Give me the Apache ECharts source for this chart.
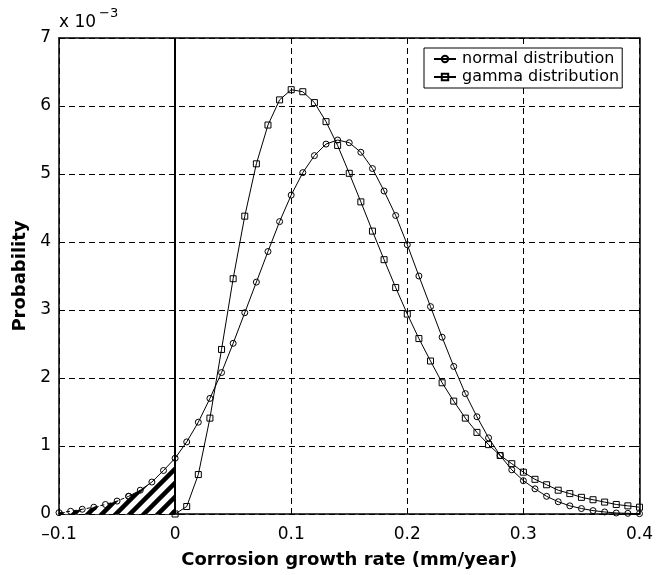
<!DOCTYPE html>
<html>
<head>
<meta charset="utf-8">
<script src="https://cdn.jsdelivr.net/npm/echarts@6/dist/echarts.min.js"></script>
<style>
  html, body { margin: 0; padding: 0; background: #fff; }
  #chart { width: 656px; height: 575px; }
</style>
</head>
<body>
<div id="chart"></div>
<script>
// Corrosion growth rate (mm/year), sampled every 0.01
const rateNormal = [-0.10,-0.09,-0.08,-0.07,-0.06,-0.05,-0.04,-0.03,-0.02,-0.01,
  0.00,0.01,0.02,0.03,0.04,0.05,0.06,0.07,0.08,0.09,
  0.10,0.11,0.12,0.13,0.14,0.15,0.16,0.17,0.18,0.19,
  0.20,0.21,0.22,0.23,0.24,0.25,0.26,0.27,0.28,0.29,
  0.30,0.31,0.32,0.33,0.34,0.35,0.36,0.37,0.38,0.39,0.40];
// Probability (x 10^-3), normal distribution
const probNormal = [0.02,0.04,0.07,0.10,0.14,0.19,0.26,0.35,0.47,0.64,
  0.82,1.06,1.35,1.70,2.08,2.51,2.96,3.41,3.86,4.30,
  4.69,5.02,5.27,5.44,5.50,5.46,5.32,5.08,4.75,4.39,
  3.96,3.50,3.05,2.60,2.17,1.77,1.43,1.12,0.86,0.65,
  0.49,0.37,0.26,0.18,0.12,0.08,0.05,0.03,0.015,0.01,0.005];

const rateGamma = [0.00,0.01,0.02,0.03,0.04,0.05,0.06,0.07,0.08,0.09,
  0.10,0.11,0.12,0.13,0.14,0.15,0.16,0.17,0.18,0.19,
  0.20,0.21,0.22,0.23,0.24,0.25,0.26,0.27,0.28,0.29,
  0.30,0.31,0.32,0.33,0.34,0.35,0.36,0.37,0.38,0.39,0.40];
// Probability (x 10^-3), gamma distribution
const probGamma = [0.00,0.11,0.58,1.41,2.42,3.46,4.38,5.15,5.72,6.09,
  6.24,6.21,6.05,5.77,5.42,5.01,4.59,4.16,3.74,3.33,
  2.94,2.58,2.25,1.93,1.66,1.41,1.20,1.02,0.86,0.74,
  0.615,0.51,0.43,0.35,0.30,0.245,0.21,0.175,0.14,0.12,0.10];

const xTickLabels = ['\u20130.1', '0', '0.1', '0.2', '0.3', '0.4'];
const yTickLabels = ['0', '1', '2', '3', '4', '5', '6', '7'];

const FONT = 'DejaVu Sans';

function pairs(xs, ys) { return xs.map((x, i) => [x, ys[i]]); }

const normalPts = pairs(rateNormal, probNormal);
const gammaPts = pairs(rateGamma, probGamma);
// negative-rate part of the normal curve (shaded region)
const negPts = normalPts.filter(p => p[0] <= 0.0001);
const dashedPts = normalPts.filter(p => p[0] <= -0.0399);
const solidNormalPts = normalPts.filter(p => p[0] >= -0.0401);

// diagonal hatch pattern
function hatchPattern() {
  const s = 14;
  const c = document.createElement('canvas');
  c.width = s; c.height = s;
  const g = c.getContext('2d');
  g.fillStyle = '#fff';
  g.fillRect(0, 0, s, s);
  g.strokeStyle = '#000';
  g.lineWidth = 4.5;
  g.beginPath();
  g.moveTo(-2, s + 2); g.lineTo(s + 2, -2);
  g.moveTo(-2 - s, s + 2); g.lineTo(2, -2);
  g.moveTo(s - 2, s + 2); g.lineTo(2 * s + 2, -2);
  g.stroke();
  return c;
}

const chart = echarts.init(document.getElementById('chart'), null, { renderer: 'canvas' });

const axisLineStyle = { color: '#000', width: 1.5 };
const gridLineStyle = { color: '#000', width: 1, type: [6, 4] };

chart.setOption({
  backgroundColor: '#fff',
  animation: false,
  grid: { left: 59, right: 15, top: 38, bottom: 61 },
  legend: {
    data: ['normal distribution', 'gamma distribution'],
    orient: 'vertical',
    left: 424,
    top: 48,
    padding: [2, 3, 2, 9],
    itemGap: 0,
    itemWidth: 22,
    itemHeight: 8,
    borderColor: '#000',
    borderWidth: 1,
    borderRadius: 0,
    backgroundColor: '#fff',
    textStyle: { fontFamily: FONT, fontSize: 16, color: '#000', lineHeight: 18, padding: [0, 0, 0, 1] },
    selectedMode: false
  },
  xAxis: [{
    type: 'value',
    min: -0.1, max: 0.4, interval: 0.1,
    position: 'bottom',
    name: 'Corrosion growth rate (mm/year)',
    nameLocation: 'middle',
    nameGap: 37,
    nameTextStyle: { fontFamily: FONT, fontWeight: 'bold', fontSize: 18, color: '#000' },
    axisLine: { onZero: false, lineStyle: axisLineStyle },
    axisTick: { inside: true, length: 5, lineStyle: { color: '#000' } },
    axisLabel: {
      fontFamily: FONT, fontSize: 17, color: '#000', margin: 12,
      formatter: v => xTickLabels[Math.round((v + 0.1) / 0.1)]
    },
    splitLine: { show: true, lineStyle: gridLineStyle }
  }, {
    type: 'value',
    min: -0.1, max: 0.4, interval: 0.1,
    position: 'top',
    axisLine: { onZero: false, lineStyle: axisLineStyle },
    axisTick: { inside: true, length: 5, lineStyle: { color: '#000' } },
    axisLabel: { show: false },
    splitLine: { show: false }
  }],
  yAxis: [{
    type: 'value',
    min: 0, max: 7, interval: 1,
    position: 'left',
    name: 'Probability',
    nameLocation: 'middle',
    nameGap: 30,
    nameRotate: 90,
    nameTextStyle: { fontFamily: FONT, fontWeight: 'bold', fontSize: 18, color: '#000' },
    axisLine: { show: true, onZero: false, lineStyle: axisLineStyle },
    axisTick: { show: true, inside: true, length: 5, lineStyle: { color: '#000' } },
    axisLabel: {
      fontFamily: FONT, fontSize: 17, color: '#000', margin: 8,
      formatter: v => yTickLabels[Math.round(v)]
    },
    splitLine: { show: true, lineStyle: gridLineStyle }
  }, {
    type: 'value',
    min: 0, max: 7, interval: 1,
    position: 'right',
    axisLine: { show: true, onZero: false, lineStyle: axisLineStyle },
    axisTick: { show: true, inside: true, length: 5, lineStyle: { color: '#000' } },
    axisLabel: { show: false },
    splitLine: { show: false }
  }],
  graphic: [
    { type: 'text', left: 59, top: 14, style: { text: 'x 10', fontFamily: FONT, fontSize: 17, fill: '#000' } },
    { type: 'text', left: 99, top: 7, style: { text: '\u22123', fontFamily: FONT, fontSize: 13, fill: '#000' } }
  ],
  series: [
    {
      name: 'shade',
      type: 'line',
      z: 1,
      data: negPts,
      symbol: 'none',
      silent: true,
      lineStyle: { width: 0, opacity: 0 },
      areaStyle: { color: { image: hatchPattern(), repeat: 'repeat' }, opacity: 1 },
      markLine: {
        symbol: 'none',
        silent: true,
        label: { show: false },
        lineStyle: { color: '#000', width: 2, type: 'solid' },
        data: [{ xAxis: 0 }]
      }
    },
    {
      name: 'tail',
      type: 'line',
      z: 3,
      data: dashedPts,
      symbol: 'circle',
      symbolSize: 6,
      showAllSymbol: true,
      itemStyle: { color: 'rgba(0,0,0,0)', borderColor: '#000', borderWidth: 1 },
      lineStyle: { color: '#000', width: 1, type: [4, 3] }
    },
    {
      name: 'normal distribution',
      type: 'line',
      z: 3,
      data: solidNormalPts,
      symbol: 'circle',
      symbolSize: 6,
      showAllSymbol: true,
      itemStyle: { color: 'rgba(0,0,0,0)', borderColor: '#000', borderWidth: 1 },
      lineStyle: { color: '#000', width: 1 }
    },
    {
      name: 'gamma distribution',
      type: 'line',
      z: 3,
      data: gammaPts,
      symbol: 'rect',
      symbolSize: 6,
      showAllSymbol: true,
      itemStyle: { color: 'rgba(0,0,0,0)', borderColor: '#000', borderWidth: 1 },
      lineStyle: { color: '#000', width: 1 }
    }
  ]
});
</script>
</body>
</html>
